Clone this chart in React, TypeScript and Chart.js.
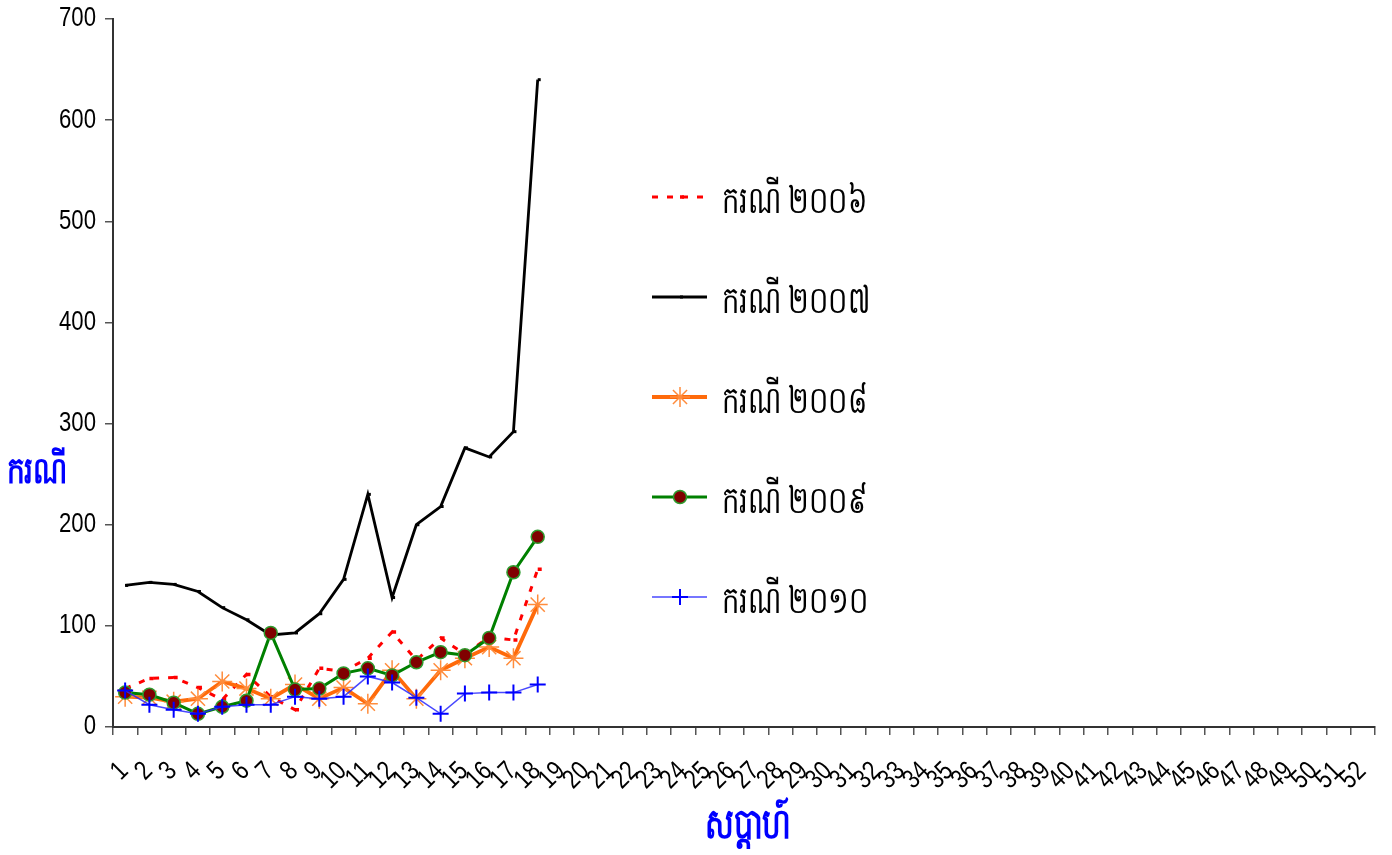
import React, { useEffect, useRef } from 'react';
import { Chart, registerables } from 'chart.js';
import { drawPoint } from 'chart.js/helpers';

Chart.register(...registerables);

const weeks = ['1','2','3','4','5','6','7','8','9','10','11','12','13','14','15','16','17','18','19','20','21','22','23','24','25','26','27','28','29','30','31','32','33','34','35','36','37','38','39','40','41','42','43','44','45','46','47','48','49','50','51','52'];

const cases2006 = [38, 48, 49, 39, 27, 52, 30, 17, 58, 55, 68, 94, 66, 88, 72, 89, 86, 156];
const cases2007 = [140, 143, 141, 134, 118, 106, 91, 93, 112, 146, 230, 128, 200, 218, 276, 267, 292, 640];
const cases2008 = [30, 29, 25, 28, 45, 38, 28, 42, 28, 39, 23, 56, 28, 56, 68, 79, 68, 121];
const cases2009 = [34, 32, 24, 13, 20, 26, 93, 37, 38, 53, 58, 51, 64, 74, 71, 88, 153, 188];
const cases2010 = [36, 22, 17, 13, 20, 22, 22, 30, 28, 30, 50, 44, 29, 13, 33, 34, 34, 42];

const seriesLabels = ['ករណី ២០០៦', 'ករណី ២០០៧', 'ករណី ២០០៨', 'ករណី ២០០៩', 'ករណី ២០១០'];
const yAxisTitle = 'ករណី';
const xAxisTitle = 'សប្តាហ៍';

const NUM_FONT = "'Liberation Sans', Arial, sans-serif";
const KH_FONT = "'Noto Sans', 'DejaVu Sans', sans-serif";

function drawScaledText(ctx: CanvasRenderingContext2D, text: string, x: number, y: number, sx: number, align: CanvasTextAlign, rot = 0) {
  ctx.save();
  ctx.translate(x, y);
  if (rot) ctx.rotate(rot);
  ctx.scale(sx, 1);
  ctx.textAlign = align;
  ctx.textBaseline = 'middle';
  ctx.fillText(text, 0, 0);
  ctx.restore();
}

const overlayPlugin = {
  id: 'overlay',
  afterDraw(chart: any) {
    const ctx = chart.ctx as CanvasRenderingContext2D;
    ctx.save();

    // tick labels (from the library's scales)
    const xs = chart.scales.x;
    const ys = chart.scales.y;
    ctx.fillStyle = '#000';
    ctx.font = `27px ${NUM_FONT}`;
    ys.ticks.forEach((t: any) => {
      drawScaledText(ctx, String(t.label), 96, ys.getPixelForValue(t.value), 0.82, 'right');
    });
    xs.ticks.forEach((t: any) => {
      const px = xs.getPixelForValue(t.value);
      drawScaledText(ctx, String(t.label), px - 1, 767, 0.82, 'right', -Math.PI / 4);
    });

    // legend
    const legendTop = 197;
    const legendStep = 100;
    chart.data.datasets.forEach((ds: any, i: number) => {
      const y = legendTop + i * legendStep;
      ctx.strokeStyle = ds.borderColor;
      ctx.lineWidth = ds.borderWidth;
      ctx.setLineDash(ds.borderDash || []);
      ctx.beginPath();
      ctx.moveTo(652, y);
      ctx.lineTo(707, y);
      ctx.stroke();
      ctx.setLineDash([]);
      ctx.strokeStyle = ds.pointBorderColor;
      ctx.fillStyle = ds.pointBackgroundColor;
      ctx.lineWidth = ds.pointBorderWidth;
      drawPoint(ctx, { pointStyle: ds.pointStyle, radius: ds.pointRadius, borderWidth: ds.pointBorderWidth, rotation: 0 } as any, 680, y);
      ctx.fillStyle = '#000';
      ctx.font = `38px ${KH_FONT}`;
      drawScaledText(ctx, ds.label, 722, y + 5, 0.72, 'left');
    });

    // axis titles
    ctx.fillStyle = '#0000FF';
    ctx.font = `bold 37px ${KH_FONT}`;
    drawScaledText(ctx, yAxisTitle, 37, 472, 0.76, 'center');
    ctx.font = `bold 42px ${KH_FONT}`;
    drawScaledText(ctx, xAxisTitle, 748, 826, 0.72, 'center');
    ctx.restore();
  },
};

export default function App() {
  const canvasRef = useRef<HTMLCanvasElement | null>(null);

  useEffect(() => {
    document.body.style.margin = '0';
    const canvas = canvasRef.current;
    if (!canvas) return;
    const chart = new Chart(canvas, {
      type: 'line',
      data: {
        labels: weeks,
        datasets: [
          {
            label: seriesLabels[0],
            data: cases2006,
            borderColor: '#FF0000',
            borderWidth: 3,
            borderDash: [6, 9],
            pointStyle: 'dash',
            pointRadius: 4,
            pointBorderWidth: 3.5,
            pointBorderColor: '#FF0000',
            pointBackgroundColor: '#FF0000',
            order: 4,
            tension: 0,
          },
          {
            label: seriesLabels[1],
            data: cases2007,
            borderColor: '#000000',
            borderWidth: 2.8,
            pointStyle: 'dash',
            pointRadius: 3,
            pointBorderWidth: 3,
            pointBorderColor: '#000000',
            pointBackgroundColor: '#000000',
            order: 3,
            tension: 0,
          },
          {
            label: seriesLabels[2],
            data: cases2008,
            borderColor: '#FF6A0A',
            borderWidth: 3.8,
            pointStyle: 'star',
            pointRadius: 10,
            pointBorderWidth: 1.5,
            pointBorderColor: '#FF8C3C',
            pointBackgroundColor: '#FF8C3C',
            order: 2,
            tension: 0,
          },
          {
            label: seriesLabels[3],
            data: cases2009,
            borderColor: '#008000',
            borderWidth: 3,
            pointStyle: 'circle',
            pointRadius: 6.5,
            pointBorderWidth: 1.5,
            pointBorderColor: '#2E9B2E',
            pointBackgroundColor: '#800000',
            order: 1,
            tension: 0,
          },
          {
            label: seriesLabels[4],
            data: cases2010,
            borderColor: 'rgba(40,40,255,0.85)',
            borderWidth: 1.5,
            pointStyle: 'cross',
            pointRadius: 8,
            pointBorderWidth: 2,
            pointBorderColor: '#0000FF',
            pointBackgroundColor: '#0000FF',
            order: 0,
            tension: 0,
          },
        ],
      },
      options: {
        animation: false,
        responsive: false,
        devicePixelRatio: 1,
        layout: { padding: { left: 0, top: 19, right: 17, bottom: 0 } },
        plugins: {
          legend: { display: false },
          tooltip: { enabled: false },
          title: { display: false },
        },
        scales: {
          x: {
            type: 'category',
            offset: true,
            grid: {
              offset: true,
              drawOnChartArea: false,
              drawTicks: true,
              tickLength: 8,
              color: '#555',
              lineWidth: 1.5,
            },
            border: { display: true, color: '#333', width: 2 },
            ticks: { autoSkip: false, display: false },
            afterFit(scale: any) {
              scale.height = 128;
            },
          },
          y: {
            min: 0,
            max: 700,
            grid: {
              drawOnChartArea: false,
              drawTicks: true,
              tickLength: 8,
              color: '#555',
              lineWidth: 1.5,
            },
            border: { display: true, color: '#333', width: 2 },
            ticks: { stepSize: 100, display: false },
            afterFit(scale: any) {
              scale.width = 113;
            },
          },
        },
      },
      plugins: [overlayPlugin],
    });
    return () => chart.destroy();
  }, []);

  return (
    <div style={{ position: 'absolute', left: 0, top: 0, width: 1392, height: 855, background: '#fff' }}>
      <canvas ref={canvasRef} width={1392} height={855} />
    </div>
  );
}
